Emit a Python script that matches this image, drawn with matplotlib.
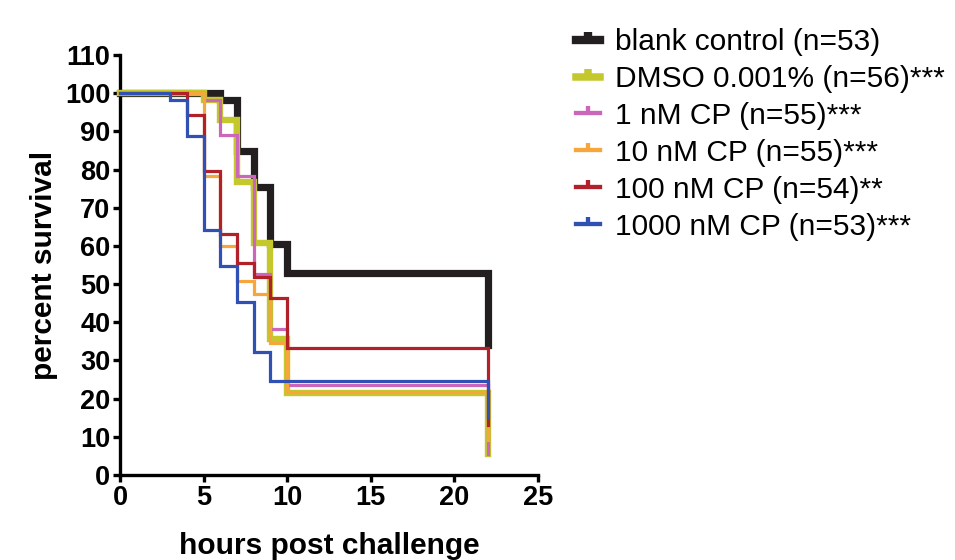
import matplotlib
matplotlib.use("Agg")
import matplotlib.pyplot as plt
from matplotlib.lines import Line2D

plt.rcParams['font.family'] = ['Liberation Sans', 'DejaVu Sans']

# Kaplan-Meier steps (hours, percent survival)
labels = ["blank control (n=53)", "DMSO 0.001% (n=56)***", "1 nM CP (n=55)***",
          "10 nM CP (n=55)***", "100 nM CP (n=54)**", "1000 nM CP (n=53)***"]
colors = ["#231f20", "#c4c82c", "#cc66bb", "#f7a63c", "#b2202a", "#3150b4"]
widths = [5.2, 4.6, 2.3, 2.3, 2.3, 2.3]

times_blank = [0, 6, 7, 8, 9, 10, 22]
surv_blank = [100, 98.1, 84.9, 75.5, 60.4, 52.8, 34.0]
times_dmso = [0, 5, 6, 7, 8, 9, 10, 22]
surv_dmso = [100, 98.2, 92.9, 76.8, 60.7, 35.7, 21.4, 5.4]
times_1nm = [0, 5, 6, 7, 8, 9, 10, 22]
surv_1nm = [100, 98.2, 89.1, 78.2, 52.7, 38.2, 23.6, 5.5]
times_10nm = [0, 5, 6, 7, 8, 9, 10, 22]
surv_10nm = [100, 78.2, 60.0, 50.9, 47.3, 34.5, 21.8, 9.1]
times_100nm = [0, 4, 5, 6, 7, 8, 9, 10, 22]
surv_100nm = [100, 94.4, 79.6, 63.0, 55.6, 51.9, 46.3, 33.3, 13.0]
times_1000nm = [0, 3, 4, 5, 6, 7, 8, 9, 22]
surv_1000nm = [100, 98.1, 88.7, 64.2, 54.7, 45.3, 32.1, 24.5, 15.1]

all_times = [times_blank, times_dmso, times_1nm, times_10nm, times_100nm, times_1000nm]
all_surv = [surv_blank, surv_dmso, surv_1nm, surv_10nm, surv_100nm, surv_1000nm]

fig = plt.figure(figsize=(9.55, 5.6), dpi=100)
ax = fig.add_axes([120 / 955, 1 - 475 / 560, 418 / 955, 420 / 560])

for i in range(len(labels)):
    ax.step(all_times[i], all_surv[i], where='post', color=colors[i],
            lw=widths[i], solid_joinstyle='miter', clip_on=False, zorder=2 + i)

ax.set_xlim(0, 25)
ax.set_ylim(0, 110)
ax.set_xticks(range(0, 26, 5))
ax.set_yticks(range(0, 111, 10))
for side in ['top', 'right']:
    ax.spines[side].set_visible(False)
for side in ['left', 'bottom']:
    ax.spines[side].set_linewidth(2.4)
ax.tick_params(width=2.4, length=5, labelsize=19.5, pad=2)
for lab in ax.get_xticklabels() + ax.get_yticklabels():
    lab.set_fontweight('bold')

ax.set_xlabel("hours post challenge", fontsize=21.5, fontweight='bold', labelpad=15)
ax.set_ylabel("percent survival", fontsize=21.5, fontweight='bold', labelpad=5)

handles = [Line2D([], [], color=colors[i], lw=widths[i] + 0.8, marker=2,
                  markersize=6 if i < 2 else 5, markeredgewidth=widths[i] + 0.8)
           for i in range(len(labels))]
fig.legend(handles, labels, loc='upper left', bbox_to_anchor=(576 / 955, 1 - 28 / 560),
           frameon=False, fontsize=21.5, handlelength=0.82, handletextpad=0.48,
           labelspacing=0.3, borderaxespad=0, borderpad=0)

fig.savefig("out.png", dpi=100)
